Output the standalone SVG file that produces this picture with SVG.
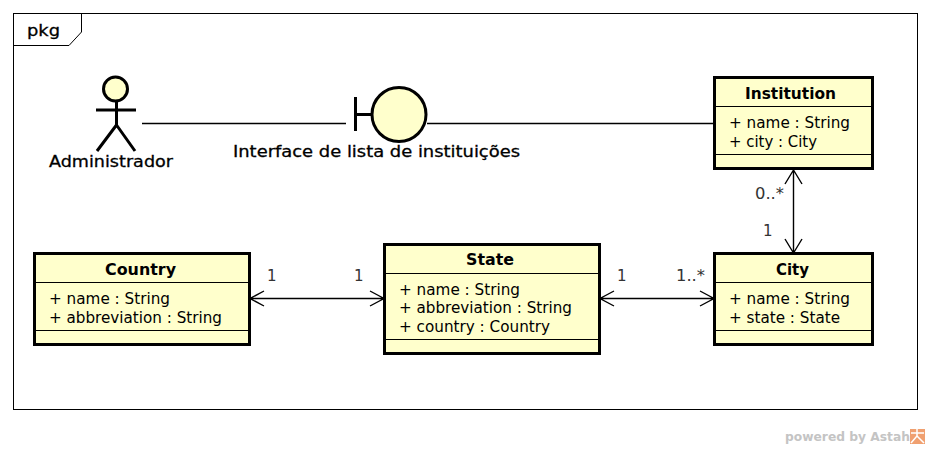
<svg xmlns="http://www.w3.org/2000/svg" width="930" height="449" viewBox="0 0 930 449">
<style>
text{font-family:"DejaVu Sans",sans-serif;font-size:15px;fill:#000}
.b{font-weight:bold}
.m{text-anchor:middle}
.l{font-size:16px;stroke:#000;stroke-width:.3}
.box{fill:#ffffcc;stroke:#000;stroke-width:3}
.sep{stroke:#000;stroke-width:1.2;fill:none}
.con{stroke:#000;stroke-width:1.4;fill:none}
.mul{fill:#333}
</style>
<rect width="930" height="449" fill="#fff"/>
<g id="frame">
<rect x="13.5" y="13.5" width="904" height="396" fill="#fff" stroke="#000" stroke-width="1"/>
<path d="M13.5 45.500H69L81.500 32V13.500" fill="none" stroke="#000" stroke-width="1"/>
<text class="l" x="27" y="36" textLength="33" lengthAdjust="spacingAndGlyphs">pkg</text>
</g>
<g id="connectors">
<path class="con" d="M142 123.500H346M427 123.500H715"/>
<path class="con" d="M250 298.500H384M264 291L250 298.500L264 306M370 291L384 298.500L370 306"/>
<path class="con" d="M600 298.500H714M614 291L600 298.500L614 306M700 291L714 298.500L700 306"/>
<path class="con" d="M793.500 170V253M785 184L793.500 170L802 184M785 239L793.500 253L802 239"/>
<text class="mul" x="267" y="281">1</text>
<text class="mul" x="354" y="281">1</text>
<text class="mul" x="617" y="281">1</text>
<text class="mul" x="676" y="281" textLength="29" lengthAdjust="spacingAndGlyphs">1..*</text>
<text class="mul" x="755" y="199" textLength="29" lengthAdjust="spacingAndGlyphs">0..*</text>
<text class="mul" x="763" y="236">1</text>
</g>
<g id="administrador">
<circle cx="115.500" cy="89" r="12" fill="#ffffcc" stroke="#000" stroke-width="3"/>
<path d="M116.500 101V125M96 110H136M116.500 125L97 151M116.500 125L135 151" fill="none" stroke="#000" stroke-width="3"/>
<text class="l" x="49" y="167" textLength="124" lengthAdjust="spacingAndGlyphs">Administrador</text>
</g>
<g id="interface">
<path d="M355.500 97V131M355.500 114.500H372" fill="none" stroke="#000" stroke-width="3"/>
<circle cx="399" cy="114.500" r="27" fill="#ffffcc" stroke="#000" stroke-width="3"/>
<text class="l" x="233" y="157" textLength="287" lengthAdjust="spacingAndGlyphs">Interface de lista de instituições</text>
</g>
<g id="institution">
<rect class="box" x="714.500" y="77.500" width="158" height="91"/>
<path class="sep" d="M716 106.500H872M716 154.500H872"/>
<text class="b" x="745" y="99" textLength="91" lengthAdjust="spacingAndGlyphs">Institution</text>
<text x="729" y="128" textLength="121" lengthAdjust="spacingAndGlyphs">+ name : String</text>
<text x="729" y="147" textLength="88" lengthAdjust="spacingAndGlyphs">+ city : City</text>
</g>
<g id="city">
<rect class="box" x="714.500" y="253.500" width="158" height="91"/>
<path class="sep" d="M716 282.500H872M716 330.500H872"/>
<text class="b" x="776" y="275" textLength="33" lengthAdjust="spacingAndGlyphs">City</text>
<text x="729" y="304" textLength="121" lengthAdjust="spacingAndGlyphs">+ name : String</text>
<text x="729" y="323" textLength="111" lengthAdjust="spacingAndGlyphs">+ state : State</text>
</g>
<g id="state">
<rect class="box" x="384.500" y="244.500" width="215" height="109"/>
<path class="sep" d="M385 273.500H599M385 339.500H599"/>
<text class="b" x="466" y="265" textLength="48" lengthAdjust="spacingAndGlyphs">State</text>
<text x="399" y="295" textLength="121" lengthAdjust="spacingAndGlyphs">+ name : String</text>
<text x="399" y="313" textLength="173" lengthAdjust="spacingAndGlyphs">+ abbreviation : String</text>
<text x="399" y="332" textLength="151" lengthAdjust="spacingAndGlyphs">+ country : Country</text>
</g>
<g id="country">
<rect class="box" x="34.500" y="253.500" width="215" height="91"/>
<path class="sep" d="M35 282.500H249M35 330.500H249"/>
<text class="b" x="105" y="275" textLength="71" lengthAdjust="spacingAndGlyphs">Country</text>
<text x="49" y="304" textLength="121" lengthAdjust="spacingAndGlyphs">+ name : String</text>
<text x="49" y="323" textLength="173" lengthAdjust="spacingAndGlyphs">+ abbreviation : String</text>
</g>
<g id="watermark">
<text x="785" y="441" textLength="125" lengthAdjust="spacingAndGlyphs" style="font-size:13px;font-weight:bold;fill:#c4c4c4">powered by Astah</text>
<rect x="910" y="429" width="15" height="15" fill="#f0a070"/>
<path d="M911 433H924M917 429V436L911 443M917 436L924 443" fill="none" stroke="#fff" stroke-width="1.500"/>
</g>
</svg>
